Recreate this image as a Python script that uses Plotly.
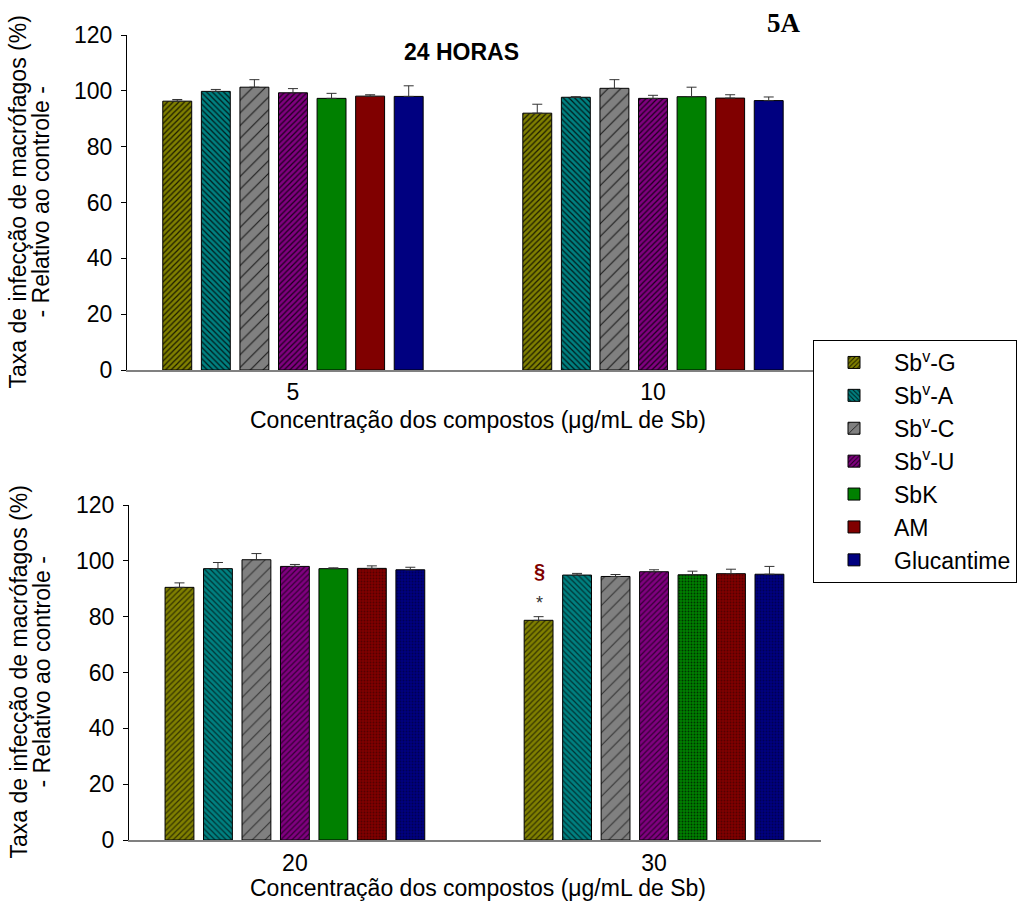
import plotly.graph_objects as go

W, H = 1028, 909

series = ["Sb<sup>v</sup>-G", "Sb<sup>v</sup>-A", "Sb<sup>v</sup>-C", "Sb<sup>v</sup>-U", "SbK", "AM", "Glucantime"]
colors = ["#808000", "#008080", "#808080", "#800080", "#008000", "#800000", "#000080"]

# Top panel (concentrations 5 and 10)
cats_top = ["5", "10"]
vals_top = {
    "Sb<sup>v</sup>-G": [96.3, 92.0],
    "Sb<sup>v</sup>-A": [99.8, 97.7],
    "Sb<sup>v</sup>-C": [101.3, 100.9],
    "Sb<sup>v</sup>-U": [99.3, 97.3],
    "SbK": [97.3, 97.9],
    "AM": [98.1, 97.4],
    "Glucantime": [98.0, 96.5],
}
errs_top = {
    "Sb<sup>v</sup>-G": [0.6, 3.2],
    "Sb<sup>v</sup>-A": [0.7, 0.2],
    "Sb<sup>v</sup>-C": [2.7, 3.1],
    "Sb<sup>v</sup>-U": [1.5, 1.1],
    "SbK": [1.8, 3.4],
    "AM": [0.5, 1.2],
    "Glucantime": [3.8, 1.3],
}

# Bottom panel (concentrations 20 and 30)
cats_bot = ["20", "30"]
vals_bot = {
    "Sb<sup>v</sup>-G": [90.5, 78.7],
    "Sb<sup>v</sup>-A": [97.2, 94.9],
    "Sb<sup>v</sup>-C": [100.4, 94.4],
    "Sb<sup>v</sup>-U": [98.0, 96.1],
    "SbK": [97.2, 95.0],
    "AM": [97.3, 95.4],
    "Glucantime": [96.8, 95.2],
}
errs_bot = {
    "Sb<sup>v</sup>-G": [1.6, 1.3],
    "Sb<sup>v</sup>-A": [2.2, 0.6],
    "Sb<sup>v</sup>-C": [2.2, 0.7],
    "Sb<sup>v</sup>-U": [0.7, 0.7],
    "SbK": [0.3, 1.3],
    "AM": [0.9, 1.6],
    "Glucantime": [0.9, 2.8],
}

yticks = [0, 20, 40, 60, 80, 100, 120]

patterns_top = {
    "Sb<sup>v</sup>-G": (["/", "/"], 4),
    "Sb<sup>v</sup>-A": (["\\", "\\"], 4),
    "Sb<sup>v</sup>-C": (["/", "/"], 9),
    "Sb<sup>v</sup>-U": (["/", "/"], 4),
    "SbK": (["", ""], 4),
    "AM": (["", ""], 4),
    "Glucantime": (["", ""], 4),
}
patterns_bot = {
    "Sb<sup>v</sup>-G": (["/", "/"], 4),
    "Sb<sup>v</sup>-A": (["\\", "\\"], 4),
    "Sb<sup>v</sup>-C": (["/", "/"], 9),
    "Sb<sup>v</sup>-U": (["/", "/"], 4),
    "SbK": (["", "."], 3),
    "AM": ([".", "."], 3),
    "Glucantime": ([".", "."], 3),
}

FONT = "Arial, Liberation Sans, sans-serif"
FS = 23
fig = go.Figure()

for s, c in zip(series, colors):
    shp, sz = patterns_top[s]
    fig.add_trace(go.Bar(
        x=cats_top, y=vals_top[s], name=s, xaxis="x", yaxis="y",
        marker=dict(color=c, line=dict(color="black", width=1),
                    pattern=dict(shape=shp, size=sz, solidity=0.3 if sz < 9 else 0.12,
                                 fgcolor="black", fgopacity=0.8)),
        error_y=dict(type="data", symmetric=False, array=errs_top[s],
                     arrayminus=[0] * len(cats_top), color="#333333", thickness=1, width=5),
        legendgroup=s, showlegend=True,
    ))

for s, c in zip(series, colors):
    shp, sz = patterns_bot[s]
    fig.add_trace(go.Bar(
        x=cats_bot, y=vals_bot[s], name=s, xaxis="x2", yaxis="y2",
        marker=dict(color=c, line=dict(color="black", width=1),
                    pattern=dict(shape=shp, size=sz, solidity=0.3 if sz < 9 else 0.12,
                                 fgcolor="black", fgopacity=0.6 if shp[0] != "." else 0.35)),
        error_y=dict(type="data", symmetric=False, array=errs_bot[s],
                     arrayminus=[0] * len(cats_bot), color="#333333", thickness=1, width=5),
        legendgroup=s, showlegend=False,
    ))

def px_x(p):
    return p / W

def px_y(p):
    return 1 - p / H

axis_common = dict(showgrid=False, zeroline=False, automargin=False,
                   tickfont=dict(family=FONT, size=FS, color="black"))

fig.update_layout(
    width=W, height=H,
    margin=dict(l=0, r=0, t=0, b=0, pad=0, autoexpand=False),
    paper_bgcolor="white", plot_bgcolor="white",
    barmode="group", bargap=0.25, bargroupgap=0.25,
    font=dict(family=FONT, size=FS, color="black"),
    xaxis=dict(domain=[px_x(127), px_x(815)], anchor="y", type="category",
               range=[-0.461, 1.45], showline=True, linecolor="#808080", linewidth=2,
               ticks="", ticklabelstandoff=0, **axis_common),
    yaxis=dict(domain=[px_y(370), px_y(35)], anchor="x", range=[0, 120],
               tickvals=yticks, showline=True, linecolor="black", linewidth=1,
               ticks="outside", ticklen=5, tickcolor="black", ticklabelstandoff=4, **axis_common),
    xaxis2=dict(domain=[px_x(129), px_x(821)], anchor="y2", type="category",
                range=[-0.462, 1.465], showline=True, linecolor="#808080", linewidth=2,
                ticks="", ticklabelstandoff=1, **axis_common),
    yaxis2=dict(domain=[px_y(840), px_y(505)], anchor="x2", range=[0, 120],
                tickvals=yticks, showline=True, linecolor="black", linewidth=1,
                ticks="outside", ticklen=5, tickcolor="black", ticklabelstandoff=4, **axis_common),
    legend=dict(x=px_x(813), y=px_y(340), xanchor="left", yanchor="top",
                bgcolor="white", bordercolor="black", borderwidth=1,
                font=dict(family=FONT, size=FS, color="black"), itemwidth=70,
                tracegroupgap=0),
    showlegend=True,
)

ytitle1 = "Taxa de infecção de macrófagos (%)"
ytitle2 = "- Relativo ao controle -"
xtitle = "Concentração dos compostos (μg/mL de Sb)"

ann = []
for yc in (202.5, 672.5):
    ann.append(dict(text=ytitle1, x=px_x(18), y=px_y(yc), xref="paper", yref="paper",
                    xanchor="center", yanchor="middle", textangle=-90, showarrow=False,
                    font=dict(family=FONT, size=FS, color="black")))
    ann.append(dict(text=ytitle2, x=px_x(41), y=px_y(yc), xref="paper", yref="paper",
                    xanchor="center", yanchor="middle", textangle=-90, showarrow=False,
                    font=dict(family=FONT, size=FS, color="black")))
for yc in (420, 888):
    ann.append(dict(text=xtitle, x=px_x(478), y=px_y(yc), xref="paper", yref="paper",
                    xanchor="center", yanchor="middle", showarrow=False,
                    font=dict(family=FONT, size=FS, color="black")))
ann.append(dict(text="<b>24 HORAS</b>", x=px_x(461), y=px_y(52), xref="paper", yref="paper",
                xanchor="center", yanchor="middle", showarrow=False,
                font=dict(family=FONT, size=FS, color="black")))
ann.append(dict(text="<b>5A</b>", x=px_x(784), y=px_y(23), xref="paper", yref="paper",
                xanchor="center", yanchor="middle", showarrow=False,
                font=dict(family="Liberation Serif, Times New Roman, serif", size=27, color="black")))
# significance markers on Sb(v)-G bar at 30 ug/mL
ann.append(dict(text="<b>§</b>", x=px_x(539), y=px_y(571), xref="paper", yref="paper",
                xanchor="center", yanchor="middle", showarrow=False,
                font=dict(family=FONT, size=20, color="#800000")))
ann.append(dict(text="*", x=px_x(539), y=px_y(603), xref="paper", yref="paper",
                xanchor="center", yanchor="middle", showarrow=False,
                font=dict(family=FONT, size=18, color="#333333")))
fig.update_layout(annotations=ann)

fig.write_html("out.html", config={"displayModeBar": False},
               post_script="document.body.style.margin='0px';")
